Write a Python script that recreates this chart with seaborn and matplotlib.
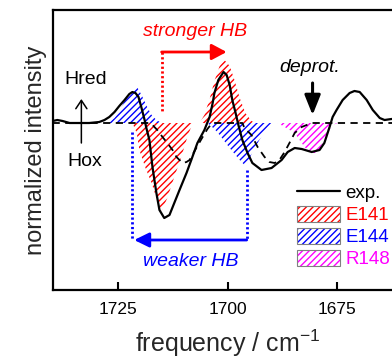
import numpy as np
import pandas as pd
import matplotlib
matplotlib.use("Agg")
import matplotlib.pyplot as plt
import seaborn as sns
from matplotlib.lines import Line2D
from matplotlib.patches import Patch

# ---------------- data ----------------
exp_freq = [1740.1, 1739.0, 1737.8, 1736.2, 1733.9, 1731.7, 1729.4, 1728.2, 1727.1, 1725.9,
            1724.8, 1723.6, 1722.5, 1721.8, 1721.1, 1720.4, 1719.7, 1719.0, 1718.6, 1717.9,
            1717.2, 1716.3, 1715.6, 1714.5, 1713.3, 1712.2, 1711.0, 1709.4, 1708.3, 1706.9,
            1705.3, 1704.1, 1703.4, 1703.0, 1702.1, 1700.9, 1700.2, 1699.5, 1698.9, 1698.2,
            1697.5, 1696.6, 1695.4, 1694.3, 1692.2, 1689.9, 1687.6, 1686.2, 1684.6, 1683.0,
            1680.7, 1678.9, 1677.8, 1676.6, 1675.9, 1675.0, 1673.6, 1672.0, 1670.9, 1669.7,
            1668.1, 1666.7, 1665.1, 1664.0, 1662.4, 1660.0]
exp_int = [0.02, 0.03, 0.02, 0.00, 0.00, 0.00, 0.01, 0.03, 0.06, 0.11,
           0.17, 0.23, 0.29, 0.31, 0.30, 0.26, 0.15, 0.03, -0.05, -0.17,
           -0.44, -0.70, -0.87, -0.95, -0.92, -0.80, -0.67, -0.50, -0.37, -0.20,
           -0.07, 0.06, 0.20, 0.30, 0.43, 0.51, 0.48, 0.38, 0.23, 0.11,
           -0.02, -0.17, -0.30, -0.40, -0.47, -0.45, -0.37, -0.29, -0.25, -0.26,
           -0.29, -0.27, -0.20, -0.04, 0.06, 0.13, 0.23, 0.30, 0.32, 0.31,
           0.23, 0.13, 0.05, 0.03, 0.04, 0.04]

sim_freq = [1740.1, 1717.9, 1717.4, 1716.1, 1714.9, 1713.8, 1712.6, 1711.7, 1710.3, 1709.4,
            1708.7, 1708.3, 1706.9, 1705.7, 1704.6, 1703.7, 1703.4, 1696.6, 1696.1, 1694.5,
            1693.1, 1691.5, 1690.4, 1689.2, 1688.1, 1686.9, 1685.8, 1684.6, 1683.0, 1680.7,
            1660.0]
sim_int = [0.0, 0.0, -0.01, -0.07, -0.14, -0.20, -0.27, -0.34, -0.40, -0.39,
           -0.37, -0.34, -0.23, -0.14, -0.06, -0.01, 0.0, 0.0, -0.05, -0.12,
           -0.24, -0.34, -0.39, -0.40, -0.37, -0.29, -0.20, -0.10, -0.04, 0.0,
           0.0]

e141_freq = [1721.8, 1720.8, 1720.2, 1718.8, 1717.4, 1716.3, 1715.1, 1713.8, 1712.2, 1710.6,
             1709.2, 1708.0, 1706.4, 1705.3, 1704.1, 1703.0, 1701.8, 1700.7, 1699.5, 1698.4,
             1697.2, 1695.9, 1694.5, 1693.6]
e141_int = [0.0, -0.10, -0.27, -0.45, -0.60, -0.75, -0.88, -0.75, -0.54, -0.34,
            -0.14, 0.0, 0.0, 0.08, 0.24, 0.42, 0.57, 0.63, 0.57, 0.43,
            0.25, 0.10, 0.02, 0.0]

e144_freq = [1727.5, 1725.9, 1724.8, 1723.6, 1722.5, 1721.3, 1720.6, 1719.7, 1718.3, 1717.4,
             1716.3, 1715.1, 1704.6, 1703.0, 1701.8, 1699.5, 1697.2, 1695.9, 1695.4, 1694.3,
             1692.7, 1690.8, 1689.9]
e144_int = [0.0, 0.05, 0.12, 0.22, 0.30, 0.35, 0.35, 0.28, 0.15, 0.08,
            0.03, 0.0, 0.0, -0.06, -0.12, -0.25, -0.37, -0.43, -0.40, -0.29,
            -0.17, -0.04, 0.0]

r148_freq = [1688.5, 1686.9, 1684.6, 1683.0, 1681.6, 1680.7, 1679.4, 1678.2, 1677.1, 1675.9, 1674.8]
r148_int = [0.0, -0.04, -0.10, -0.20, -0.28, -0.30, -0.30, -0.20, -0.10, -0.02, 0.0]

tick_values = [1725, 1700, 1675]
legend_labels = ["exp.", "E141", "E144", "R148"]
fill_colors = ["#ff0000", "#0000ff", "#ff00ff"]

# ---------------- style ----------------
sns.set_theme(style="ticks")
plt.rcParams["font.family"] = ["Liberation Sans", "DejaVu Sans"]
plt.rcParams["mathtext.fontset"] = "custom"
plt.rcParams["mathtext.rm"] = "Liberation Sans"
plt.rcParams["mathtext.it"] = "Liberation Sans:italic"
plt.rcParams["hatch.linewidth"] = 1.0

fig = plt.figure(figsize=(3.92, 3.59), dpi=100)
ax = fig.add_axes([53 / 392, 69 / 359, 349 / 392, 280 / 359])

# hatched contributions
for fr, val, col in [(e141_freq, e141_int, fill_colors[0]),
                     (e144_freq, e144_int, fill_colors[1]),
                     (r148_freq, r148_int, fill_colors[2])]:
    ax.fill_between(fr, 0, val, facecolor="none", edgecolor=col,
                    hatch="/////", linewidth=0, zorder=1)

df_sim = pd.DataFrame({"freq": sim_freq, "int": sim_int})
df_exp = pd.DataFrame({"freq": exp_freq, "int": exp_int})
sns.lineplot(data=df_sim, x="freq", y="int", ax=ax, color="black", lw=1.3,
             sort=False, zorder=3)
ax.lines[-1].set_dashes((4, 3))
sns.lineplot(data=df_exp, x="freq", y="int", ax=ax, color="black", lw=1.6,
             sort=False, zorder=4)

ax.set_xlim(1740, 1660)
ax.set_ylim(-1.67, 1.13)

# annotations: arrows and dotted guides
ax.plot([1715.1, 1715.1], [0.71, 0.11], color="red", lw=2.0,
        ls=(0, (0.8, 0.9)), zorder=5)
ax.annotate("", xy=(1700.2, 0.71), xytext=(1715.1, 0.71),
            arrowprops=dict(arrowstyle="-|>,head_length=0.45,head_width=0.24",
                            color="red", lw=2.0, shrinkA=0, shrinkB=0,
                            mutation_scale=20), zorder=5)
ax.plot([1721.8, 1721.8], [-0.09, -1.17], color="blue", lw=2.0,
        ls=(0, (0.8, 0.9)), zorder=5)
ax.plot([1695.6, 1695.6], [-0.47, -1.17], color="blue", lw=2.0,
        ls=(0, (0.8, 0.9)), zorder=5)
ax.annotate("", xy=(1721.4, -1.17), xytext=(1695.6, -1.17),
            arrowprops=dict(arrowstyle="-|>,head_length=0.45,head_width=0.22",
                            color="blue", lw=2.0, shrinkA=0, shrinkB=0,
                            mutation_scale=20), zorder=5)
ax.annotate("", xy=(1680.5, 0.08), xytext=(1680.5, 0.40),
            arrowprops=dict(arrowstyle="-|>,head_length=0.6,head_width=0.24",
                            color="black", lw=2.2, shrinkA=0, shrinkB=0,
                            mutation_scale=20), zorder=5)
ax.annotate("", xy=(1733.5, 0.24), xytext=(1733.5, -0.20),
            arrowprops=dict(arrowstyle="->,head_length=0.3,head_width=0.2",
                            color="black", lw=1.1, shrinkA=0, shrinkB=0,
                            mutation_scale=20), zorder=5)

ax.text(1707.5, 0.91, "stronger HB", color="red", style="italic",
        fontsize=14, ha="center", va="center")
ax.text(1708.5, -1.39, "weaker HB", color="blue", style="italic",
        fontsize=14, ha="center", va="center")
ax.text(1681.2, 0.56, "deprot.", color="black", style="italic",
        fontsize=14, ha="center", va="center")
ax.text(1732.6, 0.43, "Hred", color="black", fontsize=14, ha="center", va="center")
ax.text(1732.8, -0.38, "Hox", color="black", fontsize=14, ha="center", va="center")

# axes styling
ax.set_xticks(tick_values)
ax.set_xticklabels([str(t) for t in tick_values])
ax.set_yticks([])
ax.tick_params(axis="x", direction="in", length=6, width=1.5, pad=9,
               labelsize=12.5, colors="black")
for side in ["left", "top", "bottom", "right"]:
    ax.spines[side].set_visible(True)
    ax.spines[side].set_linewidth(1.6)
    ax.spines[side].set_color("black")
ax.set_xlabel("frequency / cm$^{-1}$", fontsize=18, labelpad=7)
ax.set_ylabel("normalized intensity", fontsize=17, labelpad=4)

# legend
handles = [Line2D([0], [0], color="black", lw=1.6)]
for col in fill_colors:
    handles.append((Patch(facecolor="none", edgecolor=col, hatch="/////", lw=0),
                    Patch(facecolor="none", edgecolor="#808080", lw=0.8)))
leg = ax.legend(handles, legend_labels, loc="upper left",
                bbox_to_anchor=(297 / 392, (359 - 184) / 359),
                bbox_transform=fig.transFigure, frameon=False,
                fontsize=13.5, handlelength=2.3, handleheight=0.9,
                handletextpad=0.3, labelspacing=0.2, borderpad=0,
                borderaxespad=0)
for txt, col in zip(leg.get_texts(), ["black"] + fill_colors):
    txt.set_color(col)

fig.savefig("out.png", dpi=100)
